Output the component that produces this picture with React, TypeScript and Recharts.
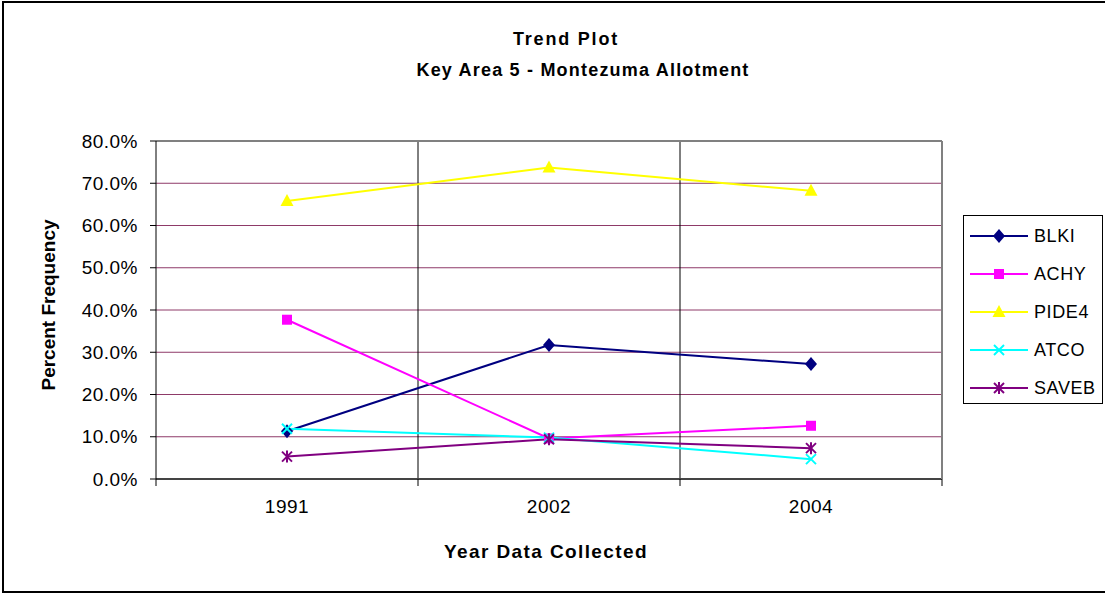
import React from "react";
import {
  LineChart,
  Line,
  XAxis,
  YAxis,
  CartesianGrid,
  ReferenceLine,
} from "recharts";

const years = ["1991", "2002", "2004"];
const blki = [0.113, 0.317, 0.272];
const achy = [0.377, 0.096, 0.126];
const pide4 = [0.658, 0.737, 0.682];
const atco = [0.119, 0.098, 0.047];
const saveb = [0.053, 0.094, 0.073];
const yTicks = [0, 0.1, 0.2, 0.3, 0.4, 0.5, 0.6, 0.7, 0.8];

const seriesNames = ["BLKI", "ACHY", "PIDE4", "ATCO", "SAVEB"];
const seriesColors = ["#000080", "#ff00ff", "#ffff00", "#00ffff", "#800080"];
const seriesMarkers = ["diamond", "square", "triangle", "cross", "star"];
const seriesValues = [blki, achy, pide4, atco, saveb];

const data = years.map((year, i) => {
  const row: Record<string, string | number> = { year };
  seriesNames.forEach((name, s) => {
    row[name] = seriesValues[s][i];
  });
  return row;
});

function Marker({ kind, cx, cy, color }: { kind: string; cx: number; cy: number; color: string }) {
  if (kind === "diamond") {
    return <polygon points={`${cx},${cy - 7} ${cx + 6},${cy} ${cx},${cy + 7} ${cx - 6},${cy}`} fill={color} />;
  }
  if (kind === "square") {
    return <rect x={cx - 5} y={cy - 5} width={10} height={10} fill={color} />;
  }
  if (kind === "triangle") {
    return <polygon points={`${cx},${cy - 7} ${cx + 6.5},${cy + 5} ${cx - 6.5},${cy + 5}`} fill={color} />;
  }
  if (kind === "cross") {
    return (
      <g stroke={color} strokeWidth={2}>
        <line x1={cx - 5} y1={cy - 5} x2={cx + 5} y2={cy + 5} />
        <line x1={cx - 5} y1={cy + 5} x2={cx + 5} y2={cy - 5} />
      </g>
    );
  }
  return (
    <g stroke={color} strokeWidth={2}>
      <line x1={cx - 5} y1={cy - 5} x2={cx + 5} y2={cy + 5} />
      <line x1={cx - 5} y1={cy + 5} x2={cx + 5} y2={cy - 5} />
      <line x1={cx} y1={cy - 6} x2={cx} y2={cy + 6} />
    </g>
  );
}

// year label at the band centre, tick marks on the band edges
function YearTick(props: any) {
  const { x, y, payload, index } = props;
  const half = payload.offset || 0;
  const axisY = y - 21;
  return (
    <g>
      <line x1={x - half} y1={axisY} x2={x - half} y2={axisY + 7} stroke="#000" />
      {index === years.length - 1 && (
        <line x1={x + half} y1={axisY} x2={x + half} y2={axisY + 7} stroke="#000" />
      )}
      <text x={x} y={y} dy="0.71em" textAnchor="middle" fontSize={19} letterSpacing={0.5} fill="#000">
        {payload.value}
      </text>
    </g>
  );
}

function LegendBox() {
  return (
    <div
      style={{
        position: "absolute",
        left: 963,
        top: 215,
        border: "1px solid #000",
        background: "#fff",
        width: 140,
        height: 189,
        boxSizing: "border-box",
        paddingTop: 1,
      }}
    >
      {seriesNames.map((name, s) => (
        <div key={name} style={{ display: "flex", alignItems: "center", height: 38 }}>
          <svg width={66} height={20} style={{ marginLeft: 4 }}>
            <line x1={2} y1={10} x2={60} y2={10} stroke={seriesColors[s]} strokeWidth={2} />
            <Marker kind={seriesMarkers[s]} cx={31} cy={10} color={seriesColors[s]} />
          </svg>
          <span style={{ fontSize: 18, letterSpacing: 0.6, color: "#000" }}>{name}</span>
        </div>
      ))}
    </div>
  );
}

const textBase: React.CSSProperties = {
  position: "absolute",
  fontWeight: "bold",
  color: "#000",
  whiteSpace: "nowrap",
  transform: "translate(-50%, -50%)",
};

export default function App() {
  return (
    <div
      style={{
        position: "absolute",
        left: 0,
        top: 0,
        width: 1105,
        height: 596,
        overflow: "hidden",
        background: "#fff",
        fontFamily: "'Liberation Sans', Arial, sans-serif",
      }}
    >
      <div
        style={{
          position: "absolute",
          left: 2,
          top: 1,
          width: 1120,
          height: 592,
          border: "2px solid #000",
          boxSizing: "border-box",
        }}
      />
      <div style={{ ...textBase, left: 566, top: 39, fontSize: 18, letterSpacing: 1.8 }}>Trend Plot</div>
      <div style={{ ...textBase, left: 583, top: 70, fontSize: 18, letterSpacing: 1.2 }}>
        Key Area 5 - Montezuma Allotment
      </div>
      <div
        style={{
          ...textBase,
          left: 49,
          top: 305,
          fontSize: 19,
          transform: "translate(-50%, -50%) rotate(-90deg)",
        }}
      >
        Percent Frequency
      </div>
      <div style={{ ...textBase, left: 546, top: 552, fontSize: 19, letterSpacing: 1.4 }}>
        Year Data Collected
      </div>
      <div style={{ position: "absolute", left: 0, top: 0 }}>
        <LineChart
          width={1105}
          height={596}
          data={data}
          margin={{ top: 141, right: 163, left: 0, bottom: 0 }}
        >
          <XAxis
            dataKey="year"
            scale="band"
            height={117}
            tickLine={false}
            tickSize={6}
            tickMargin={15}
            interval={0}
            axisLine={{ stroke: "#444", strokeWidth: 2 }}
            tick={<YearTick />}
          />
          <YAxis
            width={156}
            domain={[0, 0.8]}
            ticks={yTicks}
            interval={0}
            tickFormatter={(v: number) => `${(v * 100).toFixed(1)}%`}
            tickSize={6}
            tickMargin={12}
            axisLine={{ stroke: "#000" }}
            tickLine={{ stroke: "#000" }}
            tick={{ fill: "#000", fontSize: 19, letterSpacing: 0.5 }}
          />
          <CartesianGrid vertical={false} stroke="#8e3a68" strokeWidth={1} />
          <CartesianGrid
            horizontal={false}
            stroke="#000"
            strokeWidth={1}
            verticalCoordinatesGenerator={({ offset }: any) =>
              years.slice(1).map((_, i) => offset.left + ((i + 1) * offset.width) / years.length)
            }
          />
          <ReferenceLine y={0.8} stroke="#808080" strokeWidth={2} />
          {seriesNames.map((name, s) => (
            <Line
              key={name}
              dataKey={name}
              stroke={seriesColors[s]}
              strokeWidth={2}
              isAnimationActive={false}
              dot={(p: any) => (
                <Marker
                  key={`${name}-${p.index}`}
                  kind={seriesMarkers[s]}
                  cx={p.cx}
                  cy={p.cy}
                  color={seriesColors[s]}
                />
              )}
              activeDot={false}
            />
          ))}
        </LineChart>
      </div>
      <div
        style={{
          position: "absolute",
          left: 941,
          top: 141,
          width: 2,
          height: 338,
          background: "#808080",
        }}
      />
      <LegendBox />
    </div>
  );
}
